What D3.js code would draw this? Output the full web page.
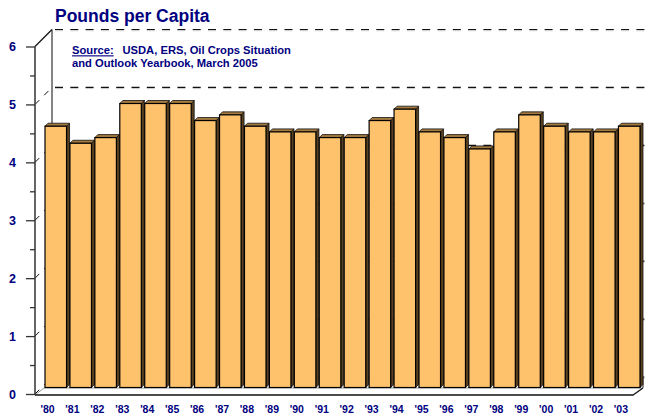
<!DOCTYPE html>
<html>
<head>
<meta charset="utf-8">
<script src="https://cdn.jsdelivr.net/npm/d3@7"></script>
<style>
  body { margin: 0; background: #fff; }
  svg text { font-family: "Liberation Sans", Arial, sans-serif; font-weight: bold; fill: #000080; }
</style>
</head>
<body>
<div id="chart"></div>
<script>
// chart data
var years = ["'80", "'81", "'82", "'83", "'84", "'85", "'86", "'87", "'88", "'89", "'90", "'91",
             "'92", "'93", "'94", "'95", "'96", "'97", "'98", "'99", "'00", "'01", "'02", "'03"];
var pounds = [4.6, 4.3, 4.4, 5.0, 5.0, 5.0, 4.7, 4.8, 4.6, 4.5, 4.5, 4.4,
              4.4, 4.7, 4.9, 4.5, 4.4, 4.2, 4.5, 4.8, 4.6, 4.5, 4.5, 4.6];
var yTicks = [0, 1, 2, 3, 4, 5, 6];
var title = "Pounds per Capita";
var sourceLines = ["USDA, ERS, Oil Crops Situation", "and Outlook Yearbook, March 2005"];

var width = 645, height = 418;
var depth = 17;     // offset of the back wall
var barDepth = 3;   // thickness of the bars

var svg = d3.select('#chart').append('svg').attr('width', width).attr('height', height);

// front axis scale and the scale the bars sit on
var y = d3.scaleLinear().domain([0, 6]).range([394, 46.5]);
var yBar = d3.scaleLinear().domain([0, 6]).range([387.5, 387.5 - 6 * 56.8]);
var x = d3.scaleBand().domain(years).range([45, 643]).paddingInner(0.016).paddingOuter(0).align(0);

// back wall gridlines (dashed), with a faint shadow
var grid = svg.append('g');
yTicks.forEach(function(v) {
    var yb = y(v) - depth;
    grid.append('line').attr('x1', 55).attr('x2', width).attr('y1', yb + 1.2).attr('y2', yb + 1.2)
        .attr('stroke', '#c8c8c8').attr('stroke-width', 1).attr('stroke-dasharray', '8,7.3');
    grid.append('line').attr('x1', 55).attr('x2', width).attr('y1', yb).attr('y2', yb)
        .attr('stroke', '#111').attr('stroke-width', 1.2).attr('stroke-dasharray', '8,7.3');
    if (v < 6) {
        grid.append('line').attr('x1', 35).attr('y1', y(v)).attr('x2', 35 + depth).attr('y2', yb)
            .attr('stroke', '#111').attr('stroke-width', 1).attr('stroke-dasharray', '6,7');
    }
});
// side wall edges
grid.append('line').attr('x1', 35).attr('y1', y(6)).attr('x2', 35 + depth).attr('y2', y(6) - depth)
    .attr('stroke', '#111').attr('stroke-width', 1.2);
grid.append('line').attr('x1', 35 + depth).attr('y1', y(6) - depth).attr('x2', 35 + depth).attr('y2', y(0) - depth)
    .attr('stroke', '#333').attr('stroke-width', 1.2);
grid.append('line').attr('x1', 643).attr('y1', y(0) - depth).attr('x2', 643).attr('y2', 388)
    .attr('stroke', '#333').attr('stroke-width', 1);

// floor slab
svg.append('path')
    .attr('d', 'M35,395 L633,395 L643,388 L44,388 Z')
    .attr('fill', '#fff').attr('stroke', '#999').attr('stroke-width', 1);
svg.append('path')
    .attr('d', 'M35,395 L633,395 L643,388')
    .attr('fill', 'none').attr('stroke', '#222').attr('stroke-width', 1.3);

// bars
var bars = svg.append('g').selectAll('g').data(pounds).enter().append('g');
var fw = x.bandwidth() - barDepth;

bars.append('path') // side face
    .attr('d', function(d, i) {
        var x0 = x(years[i]) + fw, t = yBar(d), b = yBar(0);
        return 'M' + x0 + ',' + t + 'L' + (x0 + barDepth) + ',' + (t - barDepth) +
               'L' + (x0 + barDepth) + ',' + (b - barDepth) + 'L' + x0 + ',' + b + 'Z';
    })
    .attr('fill', '#5a4120').attr('stroke', '#111').attr('stroke-width', 0.8);

bars.append('path') // top face
    .attr('d', function(d, i) {
        var x0 = x(years[i]), t = yBar(d);
        return 'M' + x0 + ',' + t + 'L' + (x0 + barDepth) + ',' + (t - barDepth) +
               'L' + (x0 + fw + barDepth) + ',' + (t - barDepth) + 'L' + (x0 + fw) + ',' + t + 'Z';
    })
    .attr('fill', '#a57a3f').attr('stroke', '#111').attr('stroke-width', 0.8);

bars.append('rect') // front face
    .attr('x', function(d, i) { return x(years[i]); })
    .attr('y', function(d) { return yBar(d); })
    .attr('width', fw)
    .attr('height', function(d) { return yBar(0) - yBar(d); })
    .attr('fill', '#ffc26c').attr('stroke', '#000').attr('stroke-width', 1.2);

// y axis: major and minor ticks
var yAxis = svg.append('g').attr('transform', 'translate(35,0)')
    .call(d3.axisLeft(y).tickValues(yTicks).tickSize(9).tickPadding(10).tickFormat(d3.format('d')));
yAxis.select('.domain').remove();
yAxis.selectAll('line').attr('stroke', '#333').attr('stroke-width', 1.3);
yAxis.selectAll('text').style('font-size', '12.5px').attr('fill', '#000080');

var minor = svg.append('g').attr('transform', 'translate(35,0)')
    .call(d3.axisLeft(y).tickValues(d3.range(0.5, 6, 1)).tickSize(5).tickFormat(''));
minor.select('.domain').remove();
minor.selectAll('line').attr('stroke', '#333').attr('stroke-width', 1.3);

svg.append('line').attr('x1', 35).attr('x2', 35).attr('y1', y(6)).attr('y2', y(0) + 1)
    .attr('stroke', '#333').attr('stroke-width', 1.5);

// x labels
svg.append('g').selectAll('text').data(years).enter().append('text')
    .attr('x', function(d) { return x(d) + 2.5; })
    .attr('y', 412.5)
    .attr('text-anchor', 'middle')
    .style('font-size', '10.5px')
    .text(function(d) { return d; });

// title
svg.append('text').attr('x', 55).attr('y', 22).style('font-size', '17.5px').text(title);

// source note
var note = svg.append('text').attr('x', 72).attr('y', 54.3).style('font-size', '11.2px');
note.append('tspan').attr('text-decoration', 'underline').text('Source:');
note.append('tspan').attr('x', 122.5).text(sourceLines[0]);
svg.append('text').attr('x', 72).attr('y', 66.5).style('font-size', '11.2px').text(sourceLines[1]);
</script>
</body>
</html>
